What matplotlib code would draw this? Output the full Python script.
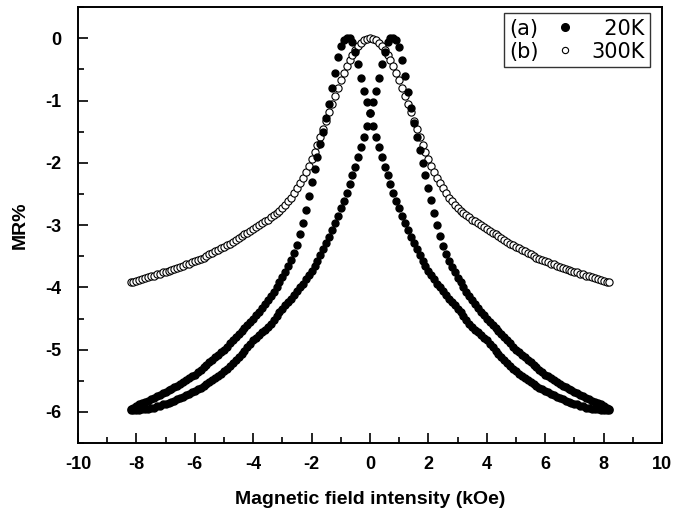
import matplotlib
matplotlib.use("Agg")
import matplotlib.pyplot as plt
from matplotlib.lines import Line2D
from matplotlib.ticker import MultipleLocator

plt.rcParams['font.family'] = ['Liberation Sans', 'DejaVu Sans']
plt.rcParams['font.weight'] = 'bold'
plt.rcParams['axes.unicode_minus'] = False

# field values (kOe)
field = [-8.2, -8.1, -8.0, -7.9, -7.8, -7.7, -7.6, -7.5, -7.4, -7.3,
         -7.2, -7.1, -7.0, -6.9, -6.8, -6.7, -6.6, -6.5, -6.4, -6.3,
         -6.2, -6.1, -6.0, -5.9, -5.8, -5.7, -5.6, -5.5, -5.4, -5.3,
         -5.2, -5.1, -5.0, -4.9, -4.8, -4.7, -4.6, -4.5, -4.4, -4.3,
         -4.2, -4.1, -4.0, -3.9, -3.8, -3.7, -3.6, -3.5, -3.4, -3.3,
         -3.2, -3.1, -3.0, -2.9, -2.8, -2.7, -2.6, -2.5, -2.4, -2.3,
         -2.2, -2.1, -2.0, -1.9, -1.8, -1.7, -1.6, -1.5, -1.4, -1.3,
         -1.2, -1.1, -1.0, -0.9, -0.8, -0.7, -0.6, -0.5, -0.4, -0.3,
         -0.2, -0.1, 0.0,
         0.1, 0.2, 0.3, 0.4, 0.5, 0.6, 0.7, 0.8, 0.9, 1.0,
         1.1, 1.2, 1.3, 1.4, 1.5, 1.6, 1.7, 1.8, 1.9, 2.0,
         2.1, 2.2, 2.3, 2.4, 2.5, 2.6, 2.7, 2.8, 2.9, 3.0,
         3.1, 3.2, 3.3, 3.4, 3.5, 3.6, 3.7, 3.8, 3.9, 4.0,
         4.1, 4.2, 4.3, 4.4, 4.5, 4.6, 4.7, 4.8, 4.9, 5.0,
         5.1, 5.2, 5.3, 5.4, 5.5, 5.6, 5.7, 5.8, 5.9, 6.0,
         6.1, 6.2, 6.3, 6.4, 6.5, 6.6, 6.7, 6.8, 6.9, 7.0,
         7.1, 7.2, 7.3, 7.4, 7.5, 7.6, 7.7, 7.8, 7.9, 8.0,
         8.1, 8.2]

# 20K, sweep whose peak sits at negative field
mr_20k_a = [-5.95, -5.93, -5.90, -5.88, -5.86, -5.84, -5.82, -5.80, -5.78, -5.75,
            -5.73, -5.70, -5.68, -5.65, -5.63, -5.60, -5.58, -5.55, -5.52, -5.49,
            -5.46, -5.43, -5.40, -5.36, -5.32, -5.28, -5.24, -5.20, -5.16, -5.12,
            -5.08, -5.04, -5.00, -4.95, -4.90, -4.85, -4.80, -4.75, -4.70, -4.65,
            -4.60, -4.55, -4.50, -4.45, -4.39, -4.33, -4.27, -4.21, -4.14, -4.07,
            -4.00, -3.92, -3.84, -3.75, -3.66, -3.56, -3.45, -3.32, -3.15, -2.96,
            -2.75, -2.53, -2.31, -2.10, -1.90, -1.70, -1.50, -1.28, -1.05, -0.80,
            -0.55, -0.30, -0.12, -0.03, 0.0, 0.0, -0.06, -0.22, -0.42, -0.63,
            -0.84, -1.03, -1.20,
            -1.40, -1.58, -1.75, -1.91, -2.06, -2.20, -2.34, -2.48, -2.61, -2.73,
            -2.85, -2.97, -3.08, -3.19, -3.29, -3.39, -3.48, -3.57, -3.65, -3.73,
            -3.80, -3.87, -3.94, -4.00, -4.06, -4.12, -4.18, -4.24, -4.29, -4.34,
            -4.40, -4.46, -4.52, -4.58, -4.63, -4.68, -4.72, -4.77, -4.81, -4.85,
            -4.91, -4.96, -5.02, -5.07, -5.12, -5.17, -5.22, -5.26, -5.31, -5.35,
            -5.39, -5.42, -5.46, -5.49, -5.52, -5.55, -5.58, -5.61, -5.63, -5.66,
            -5.68, -5.71, -5.73, -5.76, -5.78, -5.80, -5.82, -5.84, -5.85, -5.87,
            -5.88, -5.90, -5.91, -5.93, -5.94, -5.95, -5.96, -5.96, -5.97, -5.97,
            -5.97, -5.97]

# 20K, sweep whose peak sits at positive field
mr_20k_b = [-5.97, -5.97, -5.97, -5.97, -5.96, -5.96, -5.95, -5.94, -5.93, -5.91,
            -5.90, -5.88, -5.87, -5.85, -5.84, -5.82, -5.80, -5.78, -5.76, -5.73,
            -5.71, -5.68, -5.66, -5.63, -5.61, -5.58, -5.55, -5.52, -5.49, -5.46,
            -5.42, -5.39, -5.35, -5.31, -5.26, -5.22, -5.17, -5.12, -5.07, -5.02,
            -4.96, -4.91, -4.85, -4.81, -4.77, -4.72, -4.68, -4.63, -4.58, -4.52,
            -4.46, -4.40, -4.34, -4.29, -4.24, -4.18, -4.12, -4.06, -4.00, -3.94,
            -3.87, -3.80, -3.73, -3.65, -3.57, -3.48, -3.39, -3.29, -3.19, -3.08,
            -2.97, -2.85, -2.73, -2.61, -2.48, -2.34, -2.20, -2.06, -1.91, -1.75,
            -1.58, -1.40, -1.20,
            -1.03, -0.84, -0.63, -0.42, -0.22, -0.06, 0.0, 0.0, -0.03, -0.14,
            -0.34, -0.60, -0.86, -1.12, -1.36, -1.58, -1.80, -2.00, -2.20, -2.40,
            -2.60, -2.80, -2.99, -3.17, -3.33, -3.46, -3.57, -3.67, -3.76, -3.85,
            -3.92, -4.00, -4.07, -4.14, -4.21, -4.27, -4.33, -4.39, -4.45, -4.50,
            -4.55, -4.60, -4.65, -4.70, -4.75, -4.80, -4.85, -4.90, -4.95, -5.00,
            -5.04, -5.08, -5.12, -5.16, -5.20, -5.24, -5.28, -5.32, -5.36, -5.40,
            -5.43, -5.46, -5.49, -5.52, -5.55, -5.58, -5.60, -5.63, -5.65, -5.68,
            -5.70, -5.73, -5.75, -5.78, -5.80, -5.82, -5.84, -5.86, -5.88, -5.90,
            -5.93, -5.95]

# 300K
mr_300k = [-3.92, -3.91, -3.90, -3.88, -3.87, -3.85, -3.84, -3.82, -3.81, -3.79,
           -3.78, -3.76, -3.75, -3.73, -3.72, -3.70, -3.69, -3.67, -3.65, -3.63,
           -3.62, -3.60, -3.58, -3.56, -3.54, -3.52, -3.50, -3.47, -3.45, -3.42,
           -3.40, -3.37, -3.35, -3.32, -3.30, -3.27, -3.24, -3.21, -3.18, -3.15,
           -3.12, -3.09, -3.06, -3.03, -3.00, -2.97, -2.94, -2.91, -2.87, -2.84,
           -2.80, -2.77, -2.73, -2.68, -2.62, -2.56, -2.49, -2.41, -2.33, -2.24,
           -2.15, -2.05, -1.94, -1.83, -1.71, -1.58, -1.45, -1.32, -1.19, -1.05,
           -0.92, -0.79, -0.67, -0.56, -0.45, -0.35, -0.27, -0.19, -0.13, -0.07,
           -0.03, -0.01, 0.0,
           -0.01, -0.03, -0.07, -0.13, -0.19, -0.27, -0.35, -0.45, -0.56, -0.67,
           -0.79, -0.92, -1.05, -1.19, -1.32, -1.45, -1.58, -1.71, -1.83, -1.94,
           -2.05, -2.15, -2.24, -2.33, -2.41, -2.49, -2.56, -2.62, -2.68, -2.73,
           -2.77, -2.80, -2.84, -2.87, -2.91, -2.94, -2.97, -3.00, -3.03, -3.06,
           -3.09, -3.12, -3.15, -3.18, -3.21, -3.24, -3.27, -3.30, -3.32, -3.35,
           -3.37, -3.40, -3.42, -3.45, -3.47, -3.50, -3.52, -3.54, -3.56, -3.58,
           -3.60, -3.62, -3.63, -3.65, -3.67, -3.69, -3.70, -3.72, -3.73, -3.75,
           -3.76, -3.78, -3.79, -3.81, -3.82, -3.84, -3.85, -3.87, -3.88, -3.90,
           -3.91, -3.92]

sample_tags = ["(a)", "(b)"]
temps = ["\u200720K", "300K"]

fig = plt.figure(figsize=(6.86, 5.14), dpi=100)
ax = fig.add_axes([0.1137, 0.138, 0.8513, 0.848])

ax.plot(field, mr_300k, 'o', ms=5.2, mfc='white', mec='black', mew=0.8, ls='none')
ax.plot(field, mr_20k_a, 'o', ms=5, color='black', ls='none')
ax.plot(field, mr_20k_b, 'o', ms=5, color='black', ls='none')

ax.set_xlim(-10, 10)
ax.set_ylim(-6.5, 0.5)
ax.xaxis.set_major_locator(MultipleLocator(2))
ax.xaxis.set_minor_locator(MultipleLocator(1))
ax.yaxis.set_major_locator(MultipleLocator(1))
ax.yaxis.set_minor_locator(MultipleLocator(0.5))
ax.tick_params(which='both', direction='in', width=1.2)
ax.tick_params(which='major', length=7, labelsize=13)
ax.tick_params(axis='x', which='major', pad=9)
ax.tick_params(axis='y', which='major', pad=12)
ax.tick_params(which='minor', length=4)
for s in ax.spines.values():
    s.set_linewidth(1.4)

ax.set_xlabel("Magnetic field intensity (kOe)", fontsize=14, fontweight='bold', labelpad=13)
ax.set_ylabel("MR%", fontsize=14, fontweight='bold', labelpad=12)

# legend in three columns: tag | marker | temperature
blank = Line2D([], [], ls='none')
dot = Line2D([], [], marker='o', ls='none', color='black', ms=5.5)
ring = Line2D([], [], marker='o', ls='none', mfc='white', mec='black', mew=0.8, ms=4.5)
ax.legend([blank, blank, dot, ring, blank, blank],
          sample_tags + ["", ""] + temps, ncol=3, loc='upper right',
          bbox_to_anchor=(0.979, 0.986), borderaxespad=0,
          prop={'family': 'DejaVu Sans', 'size': 15, 'weight': 'normal'},
          frameon=True, fancybox=False, edgecolor='black',
          handlelength=0, handletextpad=0, columnspacing=1.25,
          borderpad=0.25, labelspacing=0.15)
ax.get_legend().get_frame().set_linewidth(1.0)

fig.savefig("out.png", dpi=100)
